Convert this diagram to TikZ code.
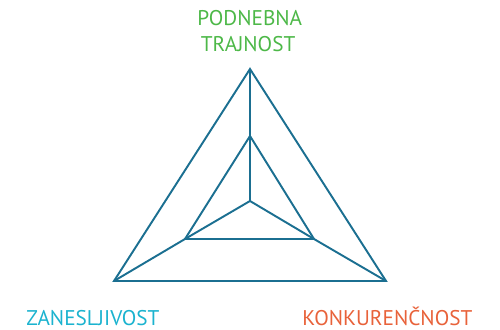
\documentclass[tikz,border=0pt]{standalone}
\usepackage{fontspec}
\setmainfont{PT Sans}
\usepackage{tikz}
\usetikzlibrary{positioning}

\definecolor{linie}{HTML}{1B6F91}
\definecolor{zelena}{HTML}{4DB848}
\definecolor{modra}{HTML}{1BB3CF}
\definecolor{oranzna}{HTML}{E8623A}

\tikzset{
  rob/.style = {draw=linie, line width=1.1pt, line join=miter},
  oznaka/.style = {inner sep=0pt, font=\fontsize{12.1}{15.5}\selectfont}
}

\begin{document}
\begin{tikzpicture}[x=0.02cm, y=-0.02cm]
\useasboundingbox (0,0) rectangle (500,330);
% zunanji trikotnik
\coordinate (a1) at (250,69);
\coordinate (a2) at (114,281);
\coordinate (a3) at (386,281);
% notranji trikotnik
\coordinate (b1) at (250,136);
\coordinate (b2) at (185,239);
\coordinate (b3) at (314,239);
\coordinate (s) at (250,201);
\draw[rob] (a1) -- (a2) -- (a3) -- cycle;
\draw[rob] (b1) -- (b2) -- (b3) -- cycle;
\draw[rob] (a1) -- (b1) -- (s);
\draw[rob] (a2) -- (b2) -- (s);
\draw[rob] (a3) -- (b3) -- (s);
% oznake
\node[oznaka, text=zelena, align=left, anchor=north west] (pod) at (197,10) {PODNEBNA\\[-0.5pt]\,TRAJNOST};
\node[oznaka, text=modra, anchor=base west] (zan) at (26,326) {ZANESLJIVOST};
\node[oznaka, text=oranzna, anchor=base west] (kon) at (302,326) {KONKURENČNOST};
\end{tikzpicture}
\end{document}
